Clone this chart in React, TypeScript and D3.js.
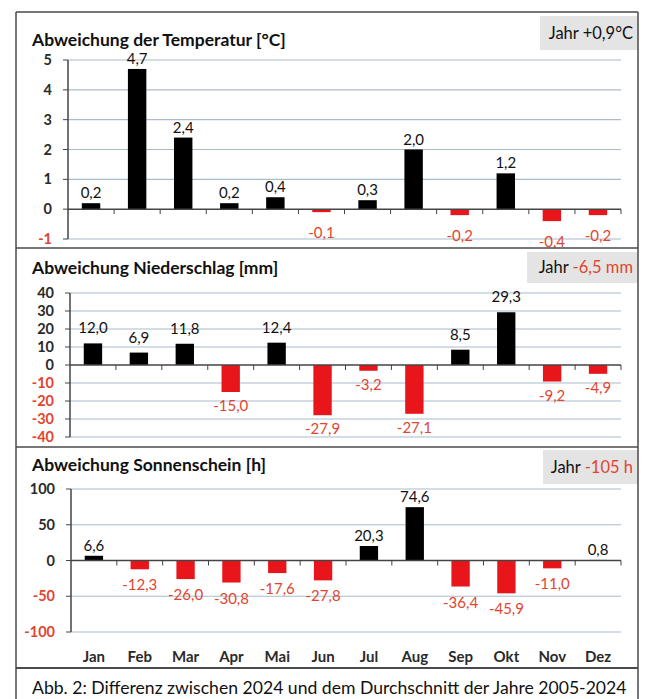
import React from 'react';
import * as d3 from 'd3';

const months = ['Jan', 'Feb', 'Mar', 'Apr', 'Mai', 'Jun', 'Jul', 'Aug', 'Sep', 'Okt', 'Nov', 'Dez'];

const tempValues = [0.2, 4.7, 2.4, 0.2, 0.4, -0.1, 0.3, 2.0, -0.2, 1.2, -0.4, -0.2];
const precipValues = [12.0, 6.9, 11.8, -15.0, 12.4, -27.9, -3.2, -27.1, 8.5, 29.3, -9.2, -4.9];
const sunValues = [6.6, -12.3, -26.0, -30.8, -17.6, -27.8, 20.3, 74.6, -36.4, -45.9, -11.0, 0.8];

const tempTicks = [-1, 0, 1, 2, 3, 4, 5];
const precipTicks = [-40, -30, -20, -10, 0, 10, 20, 30, 40];
const sunTicks = [-100, -50, 0, 50, 100];

const FONT = 'Lato, "Open Sans", sans-serif';
const BLACK = '#111';
const RED_BAR = '#e8161b';
const RED_TEXT = '#e2452f';
const GRID = '#a9bccb';
const AXIS = '#444';
const BORDER = '#4a4a4a';

// German decimal comma, plain hyphen as minus
const fmt = (v: number) => d3.format('.1f')(v).replace('.', ',').replace('\u2212', '-');

interface PanelProps {
  title: string;
  values: number[];
  ticks: number[];
  domain: [number, number];
  top: number;
  bottom: number;
  left: number;
  right: number;
  titleY: number;
  posOffset: number;
  negOffset: number;
  showMonths?: boolean;
  monthY?: number;
}

const Panel: React.FC<PanelProps> = (p) => {
  const x = d3.scaleBand<string>().domain(months).range([p.left, p.right]).paddingInner(0.6).paddingOuter(0.3);
  const y = d3.scaleLinear().domain(p.domain).range([p.bottom, p.top]);
  const y0 = y(0);
  const step = x.step();
  const xStart = p.left;
  return (
    <g>
      <text x={32} y={p.titleY} fontFamily={FONT} fontWeight={700} fontSize={17.5} fill={BLACK}>
        {p.title}
      </text>
      {p.ticks.map((t) => (
        <g key={t}>
          {t !== 0 && (
            <line x1={p.left} x2={p.right} y1={y(t)} y2={y(t)} stroke={GRID} strokeWidth={1.2} />
          )}
          <line x1={p.left - 5} x2={p.left} y1={y(t)} y2={y(t)} stroke={AXIS} strokeWidth={1} />
          <text
            x={p.left - 16}
            y={y(t)}
            dy="0.35em"
            textAnchor="end"
            fontFamily={FONT}
            fontWeight={700}
            fontSize={14.5}
            fill={t < 0 ? RED_TEXT : '#2a2a2a'}
          >
            {String(t)}
          </text>
        </g>
      ))}
      {months.map((m, i) => {
        const v = p.values[i];
        const bx = x(m) as number;
        const by = v >= 0 ? y(v) : y0;
        const bh = Math.abs(y(v) - y0);
        return (
          <g key={m}>
            <rect x={bx} y={by} width={x.bandwidth()} height={Math.max(bh, 1)} fill={v >= 0 ? '#000' : RED_BAR} />
            <text
              x={bx + x.bandwidth() / 2}
              y={v >= 0 ? y(v) - p.posOffset : y(v) + p.negOffset}
              textAnchor="middle"
              fontFamily={FONT}
              fontSize={15}
              fontWeight={400}
              fill={v >= 0 ? BLACK : RED_TEXT}
            >
              {fmt(v)}
            </text>
          </g>
        );
      })}
      <line x1={p.left} x2={p.right} y1={y0} y2={y0} stroke={AXIS} strokeWidth={1.5} />
      {d3.range(1, months.length + 1).map((k) => (
        <line key={k} x1={xStart + k * step} x2={xStart + k * step} y1={y0} y2={y0 + 5} stroke={AXIS} strokeWidth={1} />
      ))}
      <line x1={p.left} x2={p.left} y1={p.top} y2={p.bottom} stroke={AXIS} strokeWidth={1.5} />
      {p.showMonths &&
        months.map((m) => (
          <text
            key={m}
            x={(x(m) as number) + x.bandwidth() / 2}
            y={p.monthY}
            textAnchor="middle"
            fontFamily={FONT}
            fontWeight={700}
            fontSize={15}
            fill="#2a2a2a"
          >
            {m}
          </text>
        ))}
    </g>
  );
};

const JahrBox: React.FC<{ x: number; y: number; w: number; h: number; value: string; red: boolean }> = ({ x, y, w, h, value, red }) => (
  <g>
    <rect x={x} y={y} width={w} height={h} fill="#e4e4e4" />
    <text x={x + w - 5} y={y + h / 2} dy="0.35em" textAnchor="end" fontFamily={FONT} fontSize={16.5} fontWeight={400}>
      <tspan fill={BLACK}>Jahr </tspan>
      <tspan fill={red ? RED_TEXT : BLACK}>{value}</tspan>
    </text>
  </g>
);

export default function App() {
  return (
    <svg width={646} height={699} style={{ position: 'absolute', left: 0, top: 0, background: '#fff' }}>
      <rect x={0} y={0} width={646} height={699} fill="#fff" />
      <JahrBox x={540} y={16} w={98} h={34} value="+0,9°C" red={false} />
      <JahrBox x={527} y={252} w={111} h={31} value="-6,5 mm" red={true} />
      <JahrBox x={543} y={450} w={95} h={34} value="-105 h" red={true} />
      <Panel
        title="Abweichung der Temperatur [°C]"
        values={tempValues}
        ticks={tempTicks}
        domain={[-1, 5]}
        top={60}
        bottom={239}
        left={68}
        right={621}
        titleY={46}
        posOffset={5}
        negOffset={26}
      />
      <Panel
        title="Abweichung Niederschlag [mm]"
        values={precipValues}
        ticks={precipTicks}
        domain={[-40, 40]}
        top={293}
        bottom={437}
        left={70}
        right={621}
        titleY={274}
        posOffset={10}
        negOffset={19}
      />
      <Panel
        title="Abweichung Sonnenschein [h]"
        values={sunValues}
        ticks={sunTicks}
        domain={[-100, 100]}
        top={489}
        bottom={632}
        left={71}
        right={621}
        titleY={471}
        posOffset={5}
        negOffset={21}
        showMonths
        monthY={662}
      />
      <line x1={16} x2={638} y1={12} y2={12} stroke={BORDER} strokeWidth={1.5} />
      <line x1={16} x2={16} y1={12} y2={699} stroke={BORDER} strokeWidth={1.5} />
      <line x1={638} x2={638} y1={12} y2={699} stroke={BORDER} strokeWidth={1.5} />
      <line x1={16} x2={638} y1={248} y2={248} stroke={BORDER} strokeWidth={1.5} />
      <line x1={16} x2={638} y1={447} y2={447} stroke={BORDER} strokeWidth={1.5} />
      <line x1={16} x2={638} y1={668} y2={668} stroke={BORDER} strokeWidth={1.8} />
      <text x={32} y={694} fontFamily={FONT} fontSize={17.6} fill={BLACK}>
        Abb. 2: Differenz zwischen 2024 und dem Durchschnitt der Jahre 2005-2024
      </text>
    </svg>
  );
}
